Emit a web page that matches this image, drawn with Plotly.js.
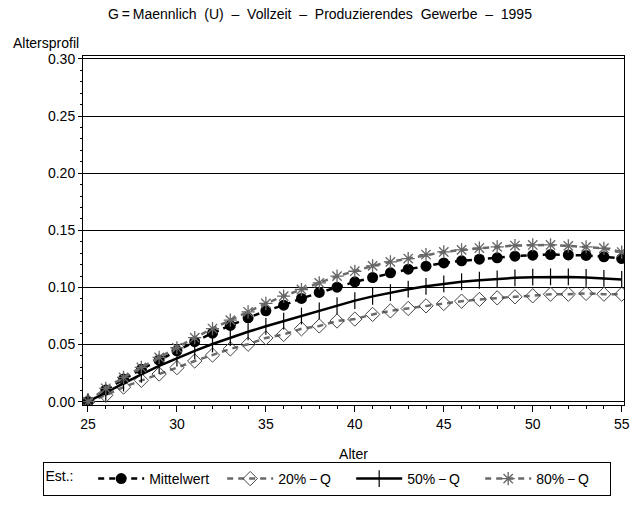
<!DOCTYPE html>
<html>
<head>
<meta charset="utf-8">
<script src="https://cdn.plot.ly/plotly-3.0.1.min.js"></script>
<style>html,body{margin:0;padding:0;background:#fff;}#chart{width:640px;height:507px;}</style>
</head>
<body>
<div id="chart"></div>
<script>
// Data
const ages = [25,26,27,28,29,30,31,32,33,34,35,36,37,38,39,40,41,42,43,44,45,46,47,48,49,50,51,52,53,54,55];
const mittelwert = [0,0.0102,0.0198,0.0283,0.0365,0.0446,0.0525,0.0600,0.0668,0.0734,0.0795,0.0845,0.0904,0.0956,0.1002,0.1049,0.1087,0.1128,0.1160,0.1186,0.1215,0.1233,0.1247,0.1259,0.1274,0.1282,0.1288,0.1285,0.1280,0.1268,0.1253];
const q20 = [0,0.0056,0.0128,0.0187,0.0242,0.0298,0.0356,0.0408,0.0462,0.0503,0.0558,0.0589,0.0638,0.0663,0.0706,0.0723,0.0764,0.0795,0.0816,0.0839,0.0860,0.0880,0.0895,0.0909,0.0918,0.0927,0.0941,0.0941,0.0948,0.0941,0.0941];
const q50 = [0,0.0082,0.0163,0.0240,0.0313,0.0382,0.0445,0.0505,0.0560,0.0612,0.0660,0.0705,0.0750,0.0795,0.0840,0.0885,0.0922,0.0955,0.0985,0.1010,0.1032,0.1050,0.1063,0.1075,0.1084,0.1090,0.1093,0.1092,0.1088,0.1080,0.1070];
const q80 = [0,0.0117,0.0213,0.0300,0.0388,0.0472,0.0560,0.0640,0.0714,0.0787,0.0860,0.0924,0.0982,0.1040,0.1099,0.1142,0.1189,0.1224,0.1253,0.1288,0.1311,0.1329,0.1345,0.1355,0.1367,0.1372,0.1372,0.1364,0.1355,0.1343,0.1310];
const seriesNames = ['Mittelwert', '20%\u2009\u2212\u2009Q', '50%\u2009\u2212\u2009Q', '80%\u2009\u2212\u2009Q'];
const titleText = 'G\u2009=\u2009Maennlich\u00a0 (U)\u00a0 \u2013\u00a0 Vollzeit\u00a0 \u2013\u00a0 Produzierendes\u00a0 Gewerbe\u00a0 \u2013\u00a0 1995';
const xTitle = 'Alter';
const yTitle = 'Altersprofil';
const legendTitle = 'Est.:';

const FONT = 'Arial, "Liberation Sans", sans-serif';

const traces = [
  {x: ages, y: mittelwert, name: seriesNames[0], mode: 'lines+markers',
   line: {color: '#000', width: 2.5, dash: '6px,5px'},
   marker: {symbol: 'circle', size: 11, color: '#000'}},
  {x: ages, y: q20, name: seriesNames[1], mode: 'lines+markers',
   line: {color: '#6a6a6a', width: 2.5, dash: '6px,5px'},
   marker: {symbol: 'diamond-open', size: 11, color: '#444', line: {width: 1, color: '#444'}}},
  {x: ages, y: q50, name: seriesNames[2], mode: 'lines+markers',
   line: {color: '#000', width: 2.5},
   marker: {symbol: 'line-ns-open', size: 12, color: '#000', line: {width: 1.2, color: '#000'}}},
  {x: ages, y: q80, name: seriesNames[3], mode: 'lines+markers',
   line: {color: '#6a6a6a', width: 2.5, dash: '6px,5px'},
   marker: {symbol: 'asterisk-open', size: 11, color: '#666', line: {width: 1.3, color: '#666'}}}
];

const layout = {
  width: 640, height: 507,
  margin: {l: 82.5, r: 16, t: 55.5, b: 102, pad: 0, autoexpand: false},
  paper_bgcolor: '#fff', plot_bgcolor: '#fff',
  font: {family: FONT, size: 14, color: '#000'},
  showlegend: true,
  title: {text: titleText, x: 0.5, xanchor: 'center', xref: 'container',
          y: 1 - 14/507, yanchor: 'middle', yref: 'container',
          font: {family: FONT, size: 14, color: '#000'}},
  xaxis: {
    range: [24.72, 55.13], tickmode: 'linear', tick0: 25, dtick: 5,
    showgrid: false, zeroline: false, automargin: false,
    showline: true, mirror: true, linecolor: '#000', linewidth: 1,
    ticks: 'outside', ticklen: 6, tickwidth: 1, tickcolor: '#000',
    minor: {dtick: 1, ticks: 'outside', ticklen: 3, tickcolor: '#000', showgrid: false},
    tickfont: {family: FONT, size: 14},
    title: {text: xTitle, font: {family: FONT, size: 14}, standoff: 20}
  },
  yaxis: {
    range: [-0.0029, 0.3026], tickmode: 'linear', tick0: 0, dtick: 0.05, tickformat: '.2f',
    showgrid: true, gridcolor: '#000', gridwidth: 1, automargin: false,
    zeroline: true, zerolinecolor: '#000', zerolinewidth: 1,
    showline: true, mirror: true, linecolor: '#000', linewidth: 1,
    ticks: 'outside', ticklen: 4, tickwidth: 1, tickcolor: '#000',
    minor: {dtick: 0.01, ticks: 'outside', ticklen: 2, tickcolor: '#000', showgrid: false},
    tickfont: {family: FONT, size: 14}
  },
  legend: {
    orientation: 'h', xref: 'container', yref: 'container',
    x: 326.5/640, xanchor: 'center', y: 1 - 462/507, yanchor: 'top',
    bordercolor: '#000', borderwidth: 1, bgcolor: '#fff',
    font: {family: FONT, size: 14},
    title: {text: legendTitle + '\u00a0\u00a0\u00a0', font: {family: FONT, size: 14}},
    itemwidth: 46, entrywidth: 68, entrywidthmode: 'pixels', tracegroupgap: 0
  },
  annotations: [
    {text: yTitle, xref: 'paper', yref: 'paper', x: (10-82.5)/541.5, xanchor: 'left',
     y: (405-42)/349.5, yanchor: 'middle', showarrow: false,
     font: {family: FONT, size: 14, color: '#000'}}
  ]
};

Plotly.newPlot('chart', traces, layout, {displayModeBar: false, staticPlot: true});
</script>
</body>
</html>
